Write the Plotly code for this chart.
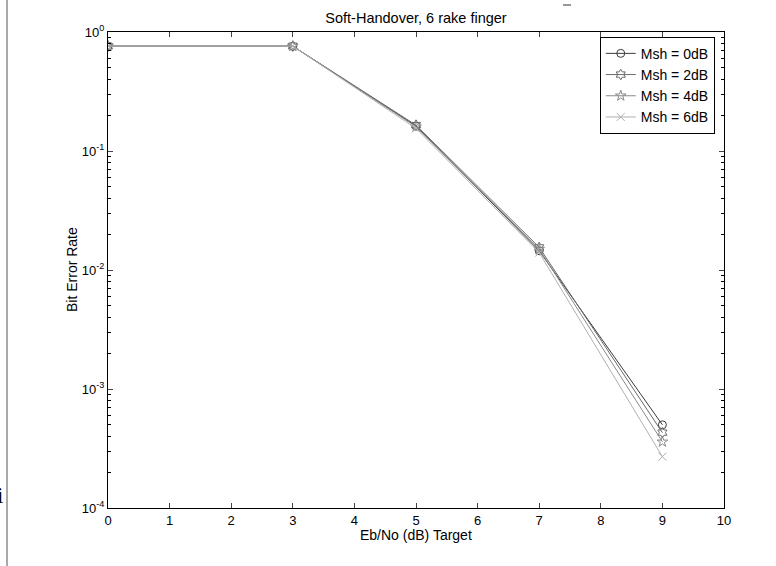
import plotly.graph_objects as go

# Eb/No target values (dB)
ebno = [0, 3, 5, 7, 9]

# bit error rate per soft-handover margin
ber_0db = [0.76, 0.76, 0.162, 0.0145, 5.0e-4]
ber_2db = [0.76, 0.76, 0.165, 0.0155, 4.3e-4]
ber_4db = [0.76, 0.76, 0.160, 0.0150, 3.6e-4]
ber_6db = [0.76, 0.76, 0.155, 0.0140, 2.7e-4]

series_names = ['Msh = 0dB', 'Msh = 2dB', 'Msh = 4dB', 'Msh = 6dB']
x_ticks = list(range(0, 11))
y_tickvals = [1e-4, 1e-3, 1e-2, 1e-1, 1]
y_ticktext = ['10<sup>-4</sup>', '10<sup>-3</sup>', '10<sup>-2</sup>',
              '10<sup>-1</sup>', '10<sup>0</sup>']

FONT = 'Liberation Sans, Arial, sans-serif'
PLOT_W, PLOT_H = 616, 476


def make_trace(y, name, color, symbol):
    return go.Scatter(x=ebno, y=y, name=name, mode='lines+markers',
                      line=dict(color=color, width=1),
                      marker=dict(symbol=symbol, size=8, color=color,
                                  line=dict(color=color, width=1)))


fig = go.Figure()
styles = [('#3a3a3a', 'circle-open'),
          ('#6a6a6a', 'hexagram-open'),
          ('#8a8a8a', 'star-open'),
          ('#b0b0b0', 'x-thin-open')]
for y, name, (color, symbol) in zip([ber_0db, ber_2db, ber_4db, ber_6db],
                                    series_names, styles):
    fig.add_trace(make_trace(y, name, color, symbol))

fig.update_layout(
    width=776, height=566,
    margin=dict(l=108, r=52, t=32, b=58, autoexpand=False),
    paper_bgcolor='white', plot_bgcolor='white',
    font=dict(family=FONT, size=13, color='black'),
    title=dict(text='Soft-Handover, 6 rake finger', x=0.5, xref='paper',
               xanchor='center', y=1 - 18 / 566, yanchor='middle',
               font=dict(size=14.5)),
    showlegend=True,
    legend=dict(x=0.985, y=0.99, xanchor='right', yanchor='top',
                bgcolor='white', bordercolor='black', borderwidth=1,
                font=dict(size=14), tracegroupgap=0, itemwidth=30),
)

fig.update_xaxes(range=[0, 10], tickvals=x_ticks, ticks='inside', ticklen=5,
                 showgrid=False, zeroline=False, showline=True,
                 linecolor='black', linewidth=1, mirror='ticks',
                 automargin=False)
fig.update_yaxes(type='log', range=[-4, 0], tickvals=y_tickvals,
                 ticktext=y_ticktext, ticks='inside', ticklen=5,
                 minor=dict(ticks='inside', ticklen=3, dtick='D1',
                            tickcolor='black'),
                 showgrid=False, zeroline=False, showline=True,
                 linecolor='black', linewidth=1, mirror='ticks',
                 automargin=False)

# axis titles
fig.add_annotation(text='Eb/No (dB) Target', xref='paper', yref='paper',
                   x=0.5, y=-27 / PLOT_H, xanchor='center', yanchor='middle',
                   showarrow=False, font=dict(size=14))
fig.add_annotation(text='Bit Error Rate', xref='paper', yref='paper',
                   x=-36 / PLOT_W, y=0.5, xanchor='center', yanchor='middle',
                   textangle=-90, showarrow=False, font=dict(size=14))

# scan artifacts at the left and top edges of the source page
fig.add_shape(type='line', xref='paper', yref='paper',
              x0=-101 / PLOT_W, x1=-101 / PLOT_W, y0=-58 / PLOT_H,
              y1=508 / PLOT_H, line=dict(color='#555555', width=1))
fig.add_shape(type='line', xref='paper', yref='paper',
              x0=455 / PLOT_W, x1=463 / PLOT_W, y0=503 / PLOT_H,
              y1=503 / PLOT_H, line=dict(color='#333333', width=1))
fig.add_annotation(text='li', xref='paper', yref='paper',
                   x=-102 / PLOT_W, y=13 / PLOT_H,
                   xanchor='right', yanchor='middle', showarrow=False,
                   font=dict(family='Liberation Serif, serif', size=24,
                             color='black'))

# page body has a default 8px margin; drop it so the figure fills the window
fig.write_html('out.html', config={'displayModeBar': False},
               post_script="document.body.style.margin='0px';")
